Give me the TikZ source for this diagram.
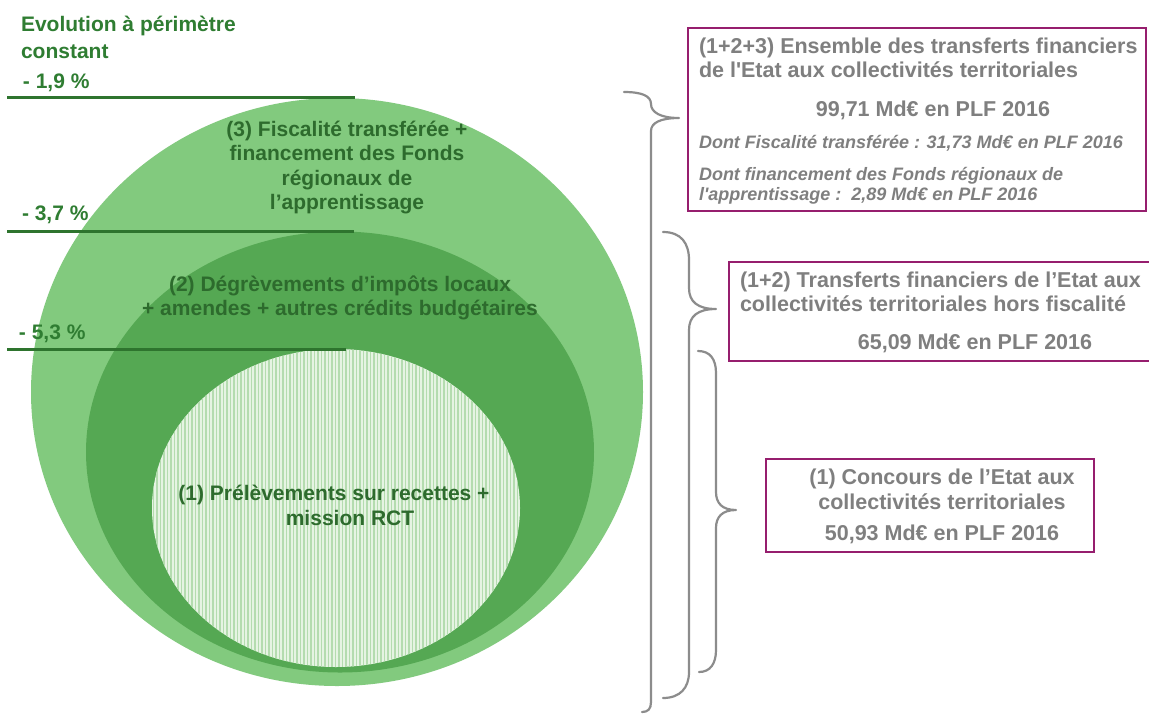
\documentclass[tikz,border=0pt]{standalone}
\usepackage{fontspec}
\setmainfont{Liberation Sans}
\usetikzlibrary{shapes.geometric}

\definecolor{outergreen}{HTML}{82CA7E}
\definecolor{midgreen}{HTML}{55A853}
\definecolor{hatchbg}{HTML}{E6F4E3}
\definecolor{hatchline}{HTML}{B4DCAF}
\definecolor{labelgreen}{HTML}{2F7D32}
\definecolor{ringtext}{HTML}{2D6B2D}
\definecolor{rulegreen}{HTML}{2E742E}
\definecolor{infogray}{HTML}{7F7F7F}
\definecolor{framepurple}{HTML}{961E6E}
\definecolor{bracegray}{HTML}{8C8C8C}

\tikzset{
  every node/.style={inner sep=0pt, outer sep=0pt},
  hdr/.style={font=\fontsize{21}{25}\selectfont\bfseries, text=labelgreen, anchor=base west},
  ring/.style={font=\fontsize{21}{25}\selectfont\bfseries, text=ringtext, anchor=base},
  rulegr/.style={draw=rulegreen, line width=3pt},
  frame/.style={draw=framepurple, line width=2.5pt, anchor=north west},
  info/.style={font=\fontsize{21.5}{25}\selectfont\bfseries, text=infogray, anchor=base west},
  infoc/.style={info, anchor=base},
  note/.style={font=\fontsize{18}{22}\selectfont\bfseries\itshape, text=infogray, anchor=base west},
  bracestroke/.style={draw=bracegray, line width=2.2pt, line cap=round, line join=round},
  blob/.style={ellipse, draw=none},
}

\begin{document}
\begin{tikzpicture}[x=1pt, y=-1pt]
  \useasboundingbox (0,0) rectangle (1149,713);
  \fill[white] (0,0) rectangle (1149,713);

  % nested areas
  \node[blob, fill=outergreen, minimum width=612, minimum height=588] (outer) at (337,392) {};
  \node[blob, fill=midgreen, minimum width=508, minimum height=441] (middle) at (340,452) {};
  \node[blob, fill=hatchbg, minimum width=368, minimum height=318] (inner) at (336,508) {};
  % vertical stripes of the inner area
  \begin{scope}
    \clip (336,508) ellipse [x radius=184, y radius=159];
    \foreach \hx in {150,153.5,...,524}
      \draw[hatchline, line width=1.5pt] (\hx,345) -- (\hx,670);
  \end{scope}

  % level rules
  \coordinate (r1a) at (7,97);  \coordinate (r1b) at (355,97);
  \coordinate (r2a) at (7,231); \coordinate (r2b) at (354,231);
  \coordinate (r3a) at (7,349); \coordinate (r3b) at (346,349);
  \draw[rulegr] (r1a) -- (r1b);
  \draw[rulegr] (r2a) -- (r2b);
  \draw[rulegr] (r3a) -- (r3b);

  % evolution labels
  \node[hdr] (evo1) at (21,31) {Evolution à périmètre};
  \node[hdr] (evo2) at (21,58) {constant};
  \node[hdr] (pct1) at (23,88) {- 1,9 \%};
  \node[hdr] (pct2) at (22,220) {- 3,7 \%};
  \node[hdr] (pct3) at (19,339) {- 5,3 \%};

  % area captions
  \node[ring] (t3a) at (347,136) {(3) Fiscalité transférée +};
  \node[ring] (t3b) at (347,160.5) {financement des Fonds};
  \node[ring] (t3c) at (347,185) {régionaux de};
  \node[ring] (t3d) at (347,209.5) {l’apprentissage};
  \node[ring] (t2a) at (340,291) {(2) Dégrèvements d’impôts locaux};
  \node[ring] (t2b) at (340,315.5) {+ amendes + autres crédits budgétaires};
  \node[ring] (t1a) at (334,500.5) {(1) Prélèvements sur recettes +};
  \node[ring] (t1b) at (350,525.5) {mission RCT};

  % summary boxes
  \node[frame, minimum width=458, minimum height=183] (box1) at (688,28) {};
  \node[frame, minimum width=424, minimum height=99] (box2) at (729,262) {};
  \node[frame, minimum width=328, minimum height=93] (box3) at (766,459) {};

  \node[info] (b1a) at (699,53.5) {(1+2+3) Ensemble des transferts financiers};
  \node[info] (b1b) at (699,77) {de l\textquotesingle Etat aux collectivités territoriales};
  \node[infoc] (b1c) at (933,116) {99,71 Md€ en PLF 2016};
  \node[note] (b1d) at (699,148) {Dont Fiscalité transférée : 31,73 Md€ en PLF 2016};
  \node[note] (b1e) at (699,180.5) {Dont financement des Fonds régionaux de};
  \node[note] (b1f) at (699,200) {l\textquotesingle apprentissage :\ \ 2,89 Md€ en PLF 2016};

  \node[info] (b2a) at (740,287.5) {(1+2) Transferts financiers de l’Etat aux};
  \node[info] (b2b) at (740,311.5) {collectivités territoriales hors fiscalité};
  \node[infoc] (b2c) at (975,349) {65,09 Md€ en PLF 2016};

  \node[infoc] (b3a) at (942,484.5) {(1) Concours de l’Etat aux};
  \node[infoc] (b3b) at (942,509.5) {collectivités territoriales};
  \node[infoc] (b3c) at (942,540.5) {50,93 Md€ en PLF 2016};

  % braces
  \coordinate (tipA) at (679,118);
  \coordinate (tipB) at (716,309);
  \coordinate (tipC) at (736,510);
  \draw[bracestroke] (624,92) .. controls (642,92) and (651,96) .. (651,104)
    .. controls (651,112) and (660,118) .. (tipA)
    .. controls (660,118) and (651,123) .. (651,131) -- (651,702)
    .. controls (651,709) and (648,712) .. (642,712);
  \draw[bracestroke] (663,232) .. controls (681,232) and (689,243) .. (689,260)
    -- (689,288) .. controls (689,302) and (698,309) .. (tipB)
    .. controls (698,309) and (689,316) .. (689,330) -- (689,672)
    .. controls (689,688) and (680,698) .. (663,698);
  \draw[bracestroke] (698,351) .. controls (710,351) and (716,359) .. (716,373)
    -- (716,492) .. controls (716,503) and (722,510) .. (tipC)
    .. controls (722,510) and (716,517) .. (716,528) -- (716,650)
    .. controls (716,664) and (710,672) .. (699,672);
\end{tikzpicture}
\end{document}
